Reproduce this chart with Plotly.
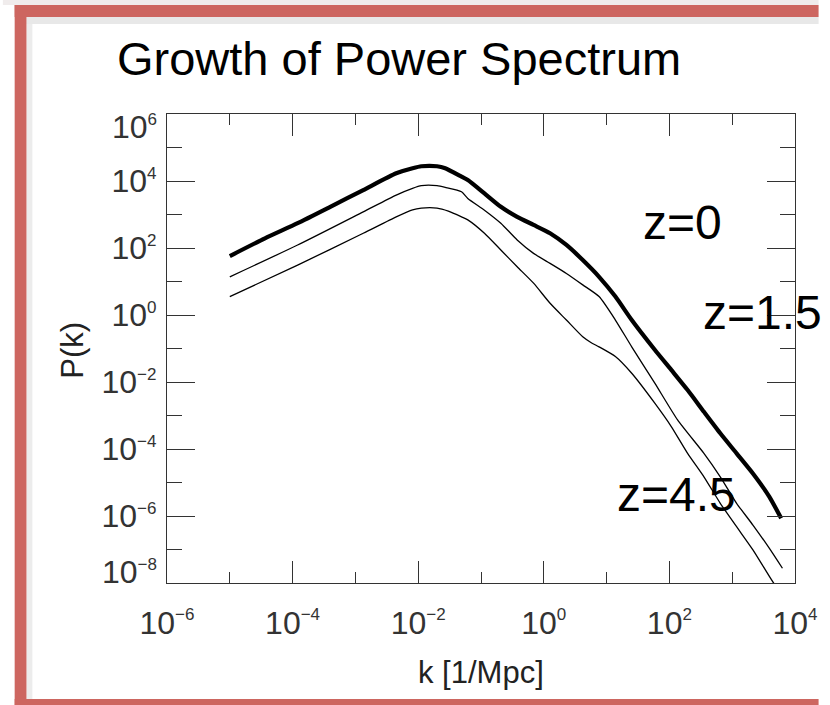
import plotly.graph_objects as go

# ---------------- data (log10 values) ----------------
log_k_z0 = [-5.00, -4.44, -3.92, -3.40, -2.875, -2.35, -2.09, -1.95, -1.70, -1.57, -1.31, -1.21,
            -0.945, -0.684, -0.424, -0.163, 0.10, 0.36, 0.62, 0.88, 1.14, 1.40, 1.77, 2.03, 2.29,
            2.55, 2.81, 3.07, 3.33, 3.59, 3.78]
log_P_z0 = [1.76, 2.29, 2.74, 3.23, 3.73, 4.23, 4.38, 4.44, 4.44, 4.38, 4.13, 4.03,
            3.63, 3.23, 2.93, 2.69, 2.44, 2.09, 1.64, 1.14, 0.55, -0.15, -1.045, -1.64, -2.24,
            -2.89, -3.53, -4.13, -4.73, -5.42, -6.07]

log_k_z15 = [-5.00, -3.92, -2.875, -2.35, -2.09, -1.95, -1.70, -1.57, -1.31, -1.21, -0.945,
             -0.684, -0.424, -0.163, 0.10, 0.36, 0.62, 0.88, 1.14, 1.40, 1.77, 2.13, 2.55, 2.81,
             3.07, 3.33, 3.59, 3.80]
log_P_z15 = [1.14, 2.09, 3.08, 3.58, 3.78, 3.86, 3.86, 3.81, 3.68, 3.48, 3.13,
             2.74, 2.24, 1.84, 1.54, 1.24, 0.90, 0.55, -0.15, -0.95, -2.04, -3.13, -4.13, -4.83,
             -5.62, -6.27, -6.96, -7.56]

log_k_z45 = [-5.00, -3.92, -2.875, -2.35, -2.09, -1.95, -1.70, -1.52, -1.31, -1.21, -0.945,
             -0.684, -0.424, -0.163, 0.10, 0.36, 0.62, 0.75, 0.88, 1.14, 1.40, 1.77, 2.03, 2.29,
             2.55, 2.81, 3.07, 3.33, 3.645, 3.83]
log_P_z45 = [0.55, 1.49, 2.44, 2.93, 3.14, 3.19, 3.19, 3.10, 2.93, 2.84, 2.44,
             1.94, 1.44, 0.95, 0.35, -0.15, -0.65, -0.82, -0.95, -1.24, -1.74, -2.64, -3.33, -4.13,
             -4.83, -5.62, -6.32, -7.01, -7.96, -8.45]

x_major = [1e-6, 1e-4, 1e-2, 1e0, 1e2, 1e4]
x_major_text = ["10<sup><span style='font-size:17px'>−6</span></sup>",
                "10<sup><span style='font-size:17px'>−4</span></sup>",
                "10<sup><span style='font-size:17px'>−2</span></sup>",
                "10<sup><span style='font-size:17px'>0</span></sup>",
                "10<sup><span style='font-size:17px'>2</span></sup>",
                "10<sup><span style='font-size:17px'>4</span></sup>"]
x_minor = [1e-5, 1e-3, 1e-1, 1e1, 1e3]

y_major = [1e-8, 1e-6, 1e-4, 1e-2, 1e0, 1e2, 1e4, 1e6]
y_major_text = ["10<sup><span style='font-size:17px'>−8</span></sup>",
                "10<sup><span style='font-size:17px'>−6</span></sup>",
                "10<sup><span style='font-size:17px'>−4</span></sup>",
                "10<sup><span style='font-size:17px'>−2</span></sup>",
                "10<sup><span style='font-size:17px'>0</span></sup>",
                "10<sup><span style='font-size:17px'>2</span></sup>",
                "10<sup><span style='font-size:17px'>4</span></sup>",
                "10<sup><span style='font-size:17px'>6</span></sup>"]
y_minor = [1e-7, 1e-5, 1e-3, 1e-1, 1e1, 1e3, 1e5]

title_text = "Growth of Power Spectrum"
series_labels = ["z=0", "z=1.5", "z=4.5"]
x_title = "k [1/Mpc]"
y_title = "P(k)"

# ---------------- figure ----------------
W, H = 830, 705
L, R, T, B = 167, 24, 114, 122
PW, PH = W - L - R, H - T - B


def px(x):
    return (x - L) / PW


def py(y):
    return (H - B - y) / PH


fig = go.Figure()
series = [(log_k_z0, log_P_z0, 4.2), (log_k_z15, log_P_z15, 1.3), (log_k_z45, log_P_z45, 1.3)]
for (lk, lp, w), name in zip(series, series_labels):
    fig.add_trace(go.Scatter(x=[10 ** v for v in lk], y=[10 ** v for v in lp], mode="lines",
                             line=dict(color="black", width=w, shape="spline", smoothing=0.6),
                             name=name, showlegend=False))

tick_font = dict(family="Liberation Sans, Arial", size=32, color="#333")
axis_common = dict(type="log", showgrid=False, zeroline=False, showline=True, linecolor="#333",
                   linewidth=1.3, mirror="ticks", ticks="inside", tickcolor="#333", tickwidth=1.3,
                   tickmode="array", tickfont=tick_font)

# end labels of the y axis sit slightly inside the frame in the reference -> drawn as annotations
y_axis_text = [""] + y_major_text[1:-1] + [""]

fig.update_xaxes(range=[-6, 4], tickvals=x_major, ticktext=x_major_text, ticklen=22,
                 ticklabelstandoff=11,
                 minor=dict(tickvals=x_minor, ticks="inside", ticklen=11, tickcolor="#333", tickwidth=1.3),
                 **axis_common)
fig.update_yaxes(range=[-8, 6], tickvals=y_major, ticktext=y_axis_text, ticklen=28,
                 ticklabelstandoff=3,
                 minor=dict(tickvals=y_minor, ticks="inside", ticklen=15, tickcolor="#333", tickwidth=1.3),
                 **axis_common)

red = "rgb(205,102,96)"
shapes = [
    # soft shadows
    dict(type="rect", xref="paper", yref="paper", x0=px(24), x1=px(30), y0=py(705), y1=py(17),
         fillcolor="rgb(236,236,236)", line_width=0, layer="below"),
    dict(type="rect", xref="paper", yref="paper", x0=px(24), x1=px(830), y0=py(24), y1=py(17),
         fillcolor="rgb(232,232,232)", line_width=0, layer="below"),
    dict(type="rect", xref="paper", yref="paper", x0=px(0), x1=px(830), y0=py(5), y1=py(0),
         fillcolor="rgb(240,236,236)", line_width=0, layer="below"),
    # red frame
    dict(type="rect", xref="paper", yref="paper", x0=px(12), x1=px(24), y0=py(705), y1=py(5),
         fillcolor=red, line_width=0),
    dict(type="rect", xref="paper", yref="paper", x0=px(12), x1=px(830), y0=py(17), y1=py(5),
         fillcolor=red, line_width=0),
    dict(type="rect", xref="paper", yref="paper", x0=px(12), x1=px(830), y0=py(705), y1=py(699),
         fillcolor=red, line_width=0),
]

big_font = dict(family="Liberation Sans, Arial", size=48, color="black")
annotations = [
    dict(text=title_text, xref="paper", yref="paper", x=px(114), y=py(87), xanchor="left",
         yanchor="bottom", showarrow=False, font=dict(family="Liberation Sans, Arial", size=47, color="black")),
    dict(text=series_labels[0], xref="paper", yref="paper", x=px(649), y=py(251), xanchor="left",
         yanchor="bottom", showarrow=False, font=big_font),
    dict(text=series_labels[1], xref="paper", yref="paper", x=px(710), y=py(341), xanchor="left",
         yanchor="bottom", showarrow=False, font=big_font),
    dict(text=series_labels[2], xref="paper", yref="paper", x=px(623), y=py(523), xanchor="left",
         yanchor="bottom", showarrow=False, font=big_font),
    dict(text=x_title, xref="paper", yref="paper", x=px(486), y=py(692), xanchor="center",
         yanchor="bottom", showarrow=False,
         font=dict(family="Liberation Sans, Arial", size=31, color="#222")),
    dict(text=y_title, xref="paper", yref="paper", x=px(70), y=py(350), xanchor="center",
         yanchor="middle", textangle=-90, showarrow=False,
         font=dict(family="Liberation Sans, Arial", size=31, color="#222")),
    dict(text=y_major_text[-1], xref="paper", yref="paper", x=px(159), y=py(127), xanchor="right",
         yanchor="middle", showarrow=False, font=tick_font),
    dict(text=y_major_text[0], xref="paper", yref="paper", x=px(159), y=py(572), xanchor="right",
         yanchor="middle", showarrow=False, font=tick_font),
]

fig.update_layout(width=W, height=H, autosize=False,
                  margin=dict(l=L, r=R, t=T, b=B, pad=0),
                  paper_bgcolor="white", plot_bgcolor="white",
                  shapes=shapes, annotations=annotations, showlegend=False)

fig.write_html("out.html", config={"displayModeBar": False})
